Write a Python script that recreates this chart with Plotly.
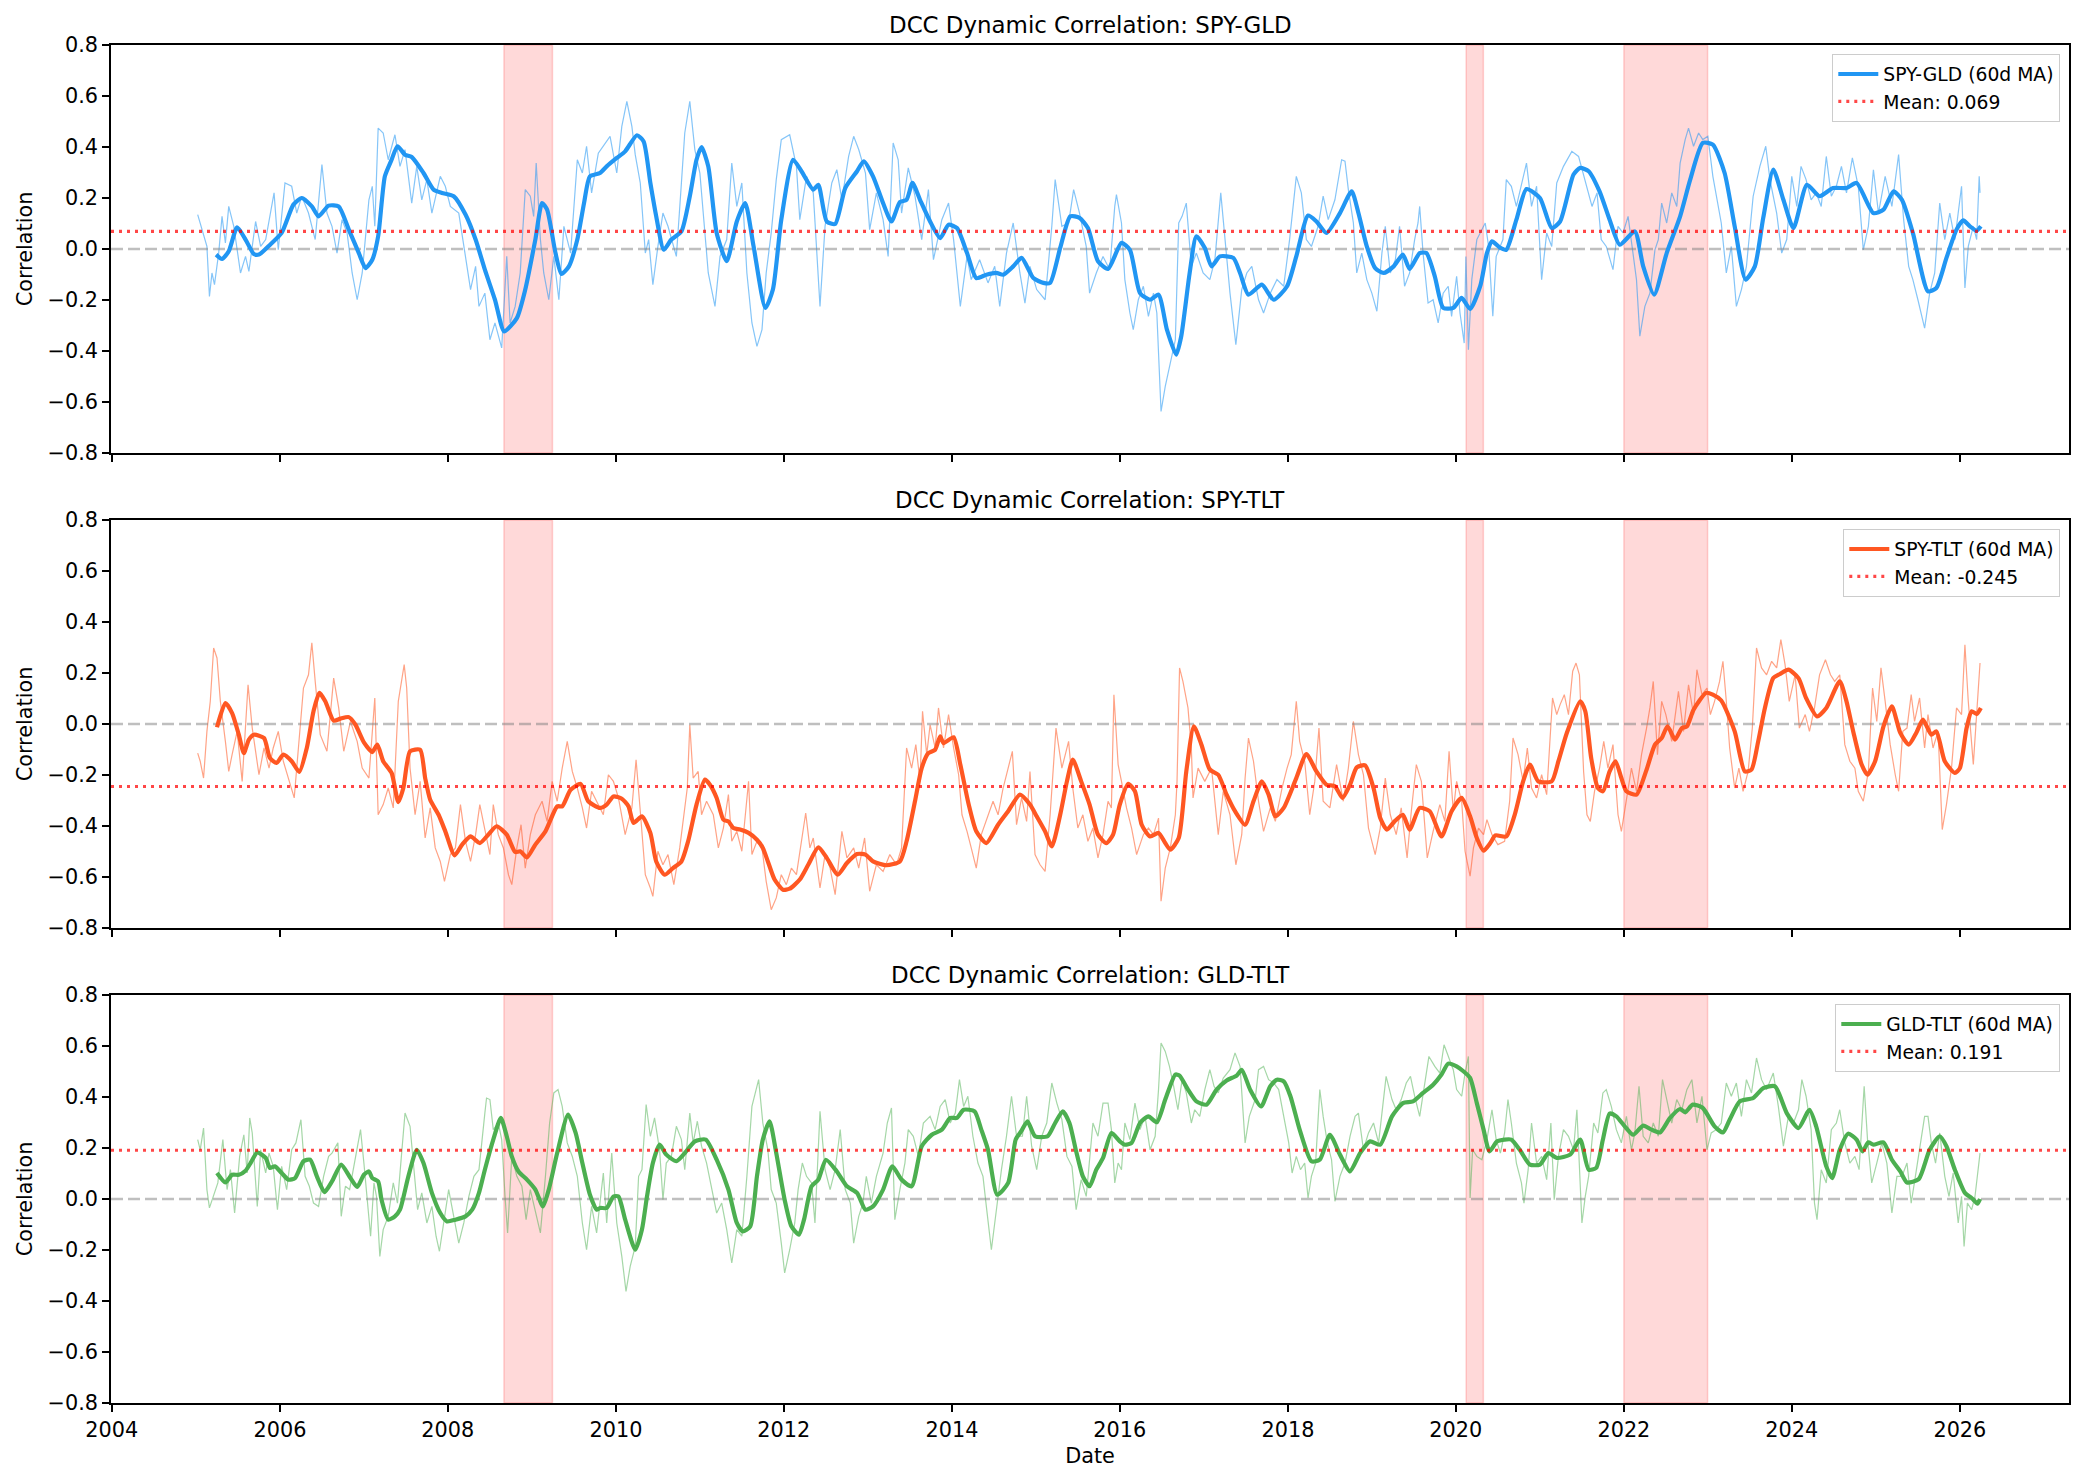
import numpy as np
import pandas as pd
import plotly.graph_objects as go

# ---------------- data (decimal year, correlation) ----------------
SPY_GLD_MA = [(2005.24,-0.022),(2005.31,-0.039),(2005.39,-0.009),(2005.49,0.085),(2005.59,0.037),(2005.69,-0.020),(2005.75,-0.022),(2005.87,0.013),(2006.02,0.063),(2006.16,0.174),(2006.26,0.200),(2006.38,0.167),(2006.46,0.128),(2006.58,0.170),(2006.70,0.167),(2006.82,0.076),(2006.94,-0.016),(2007.02,-0.075),(2007.10,-0.042),(2007.17,0.050),(2007.25,0.285),(2007.33,0.350),(2007.40,0.403),(2007.49,0.370),(2007.57,0.361),(2007.71,0.298),(2007.83,0.233),(2007.93,0.220),(2008.07,0.207),(2008.21,0.135),(2008.33,0.037),(2008.44,-0.081),(2008.56,-0.199),(2008.67,-0.323),(2008.82,-0.271),(2008.92,-0.159),(2009.04,0.037),(2009.12,0.180),(2009.18,0.154),(2009.28,-0.016),(2009.35,-0.098),(2009.44,-0.068),(2009.54,0.037),(2009.62,0.180),(2009.69,0.285),
(2009.81,0.298),(2009.89,0.324),(2010.01,0.357),(2010.11,0.383),(2010.25,0.446),(2010.33,0.422),(2010.41,0.259),(2010.48,0.128),(2010.57,-0.003),(2010.66,0.037),(2010.78,0.069),(2010.88,0.207),(2010.96,0.350),(2011.02,0.400),(2011.10,0.324),(2011.20,0.063),(2011.32,-0.048),(2011.44,0.108),(2011.54,0.180),(2011.64,0.010),(2011.78,-0.231),(2011.87,-0.159),(2011.97,0.115),(2012.11,0.350),(2012.21,0.305),(2012.35,0.233),(2012.41,0.252),(2012.51,0.108),(2012.61,0.098),(2012.73,0.239),(2012.87,0.305),(2012.95,0.344),(2013.06,0.285),(2013.18,0.180),(2013.28,0.108),(2013.38,0.184),(2013.46,0.193),(2013.53,0.259),(2013.62,0.193),(2013.74,0.108),(2013.86,0.043),(2013.96,0.095),(2014.06,0.082),(2014.18,-0.016),(2014.29,-0.114),(2014.41,-0.101),(2014.53,-0.094),(2014.61,-0.101),(2014.73,-0.068),(2014.83,-0.035),(2014.97,-0.114),(2015.09,-0.133),(2015.17,-0.133),(2015.29,0.004),(2015.41,0.128),(2015.52,0.122),(2015.62,0.082),
(2015.74,-0.048),(2015.86,-0.078),(2016.02,0.024),(2016.12,-0.003),(2016.24,-0.173),(2016.36,-0.199),(2016.46,-0.179),(2016.56,-0.316),(2016.67,-0.414),(2016.73,-0.342),(2016.83,-0.094),(2016.91,0.050),(2017.01,0.004),(2017.09,-0.068),(2017.19,-0.029),(2017.35,-0.035),(2017.43,-0.094),(2017.53,-0.179),(2017.69,-0.140),(2017.83,-0.199),(2017.99,-0.146),(2018.10,-0.029),(2018.24,0.131),(2018.34,0.108),(2018.46,0.063),(2018.62,0.141),(2018.76,0.226),(2018.84,0.141),(2018.94,0.010),(2019.04,-0.075),(2019.14,-0.094),(2019.26,-0.068),(2019.37,-0.022),(2019.45,-0.078),(2019.57,-0.016),(2019.65,-0.016),(2019.75,-0.107),(2019.85,-0.231),(2019.97,-0.231),(2020.07,-0.192),(2020.17,-0.235),(2020.29,-0.146),(2020.37,-0.016),(2020.43,0.030),(2020.53,0.004),(2020.60,-0.003),(2020.72,0.115),(2020.84,0.235),(2021.00,0.200),(2021.14,0.082),(2021.24,0.108),(2021.40,0.292),
(2021.48,0.318),(2021.58,0.305),(2021.71,0.226),(2021.83,0.115),(2021.95,0.017),(2022.13,0.069),(2022.23,-0.068),(2022.36,-0.179),(2022.51,-0.016),(2022.67,0.128),(2022.79,0.272),(2022.94,0.416),(2023.06,0.409),(2023.20,0.298),(2023.32,0.089),(2023.45,-0.120),(2023.56,-0.068),(2023.66,0.122),(2023.78,0.311),(2023.90,0.193),(2024.02,0.082),(2024.18,0.252),(2024.33,0.207),(2024.49,0.239),(2024.65,0.239),(2024.77,0.259),(2024.97,0.141),(2025.09,0.154),(2025.21,0.226),(2025.31,0.193),(2025.44,0.063),(2025.62,-0.166),(2025.72,-0.153),(2025.84,-0.035),(2025.96,0.076),(2026.04,0.112),(2026.12,0.089),(2026.20,0.072),(2026.25,0.089)]

SPY_GLD_RAW = [(2005.02,0.135),(2005.07,0.076),(2005.13,0.010),(2005.16,-0.186),(2005.19,-0.094),(2005.22,-0.140),(2005.27,-0.016),(2005.31,0.128),(2005.35,0.024),(2005.39,0.167),(2005.45,0.089),(2005.53,-0.094),(2005.59,-0.029),(2005.63,-0.088),(2005.71,0.108),(2005.77,0.010),(2005.83,0.037),(2005.93,0.220),(2005.98,-0.003),(2006.06,0.259),(2006.14,0.246),(2006.20,0.141),(2006.26,0.207),(2006.34,0.141),(2006.42,0.037),(2006.50,0.331),(2006.56,0.141),(2006.62,0.089),(2006.68,-0.016),(2006.74,0.115),(2006.80,0.063),(2006.86,-0.094),(2006.92,-0.199),(2006.98,-0.094),(2007.06,0.193),(2007.10,0.246),(2007.13,0.089),(2007.17,0.474),(2007.23,0.455),(2007.29,0.350),(2007.37,0.448),(2007.43,0.324),(2007.49,0.390),(2007.57,0.180),(2007.63,0.324),(2007.69,0.193),(2007.75,0.272),(2007.81,0.141),(2007.91,0.285),(2007.97,0.246),(2008.03,0.167),(2008.13,0.141),(2008.19,0.010),(2008.27,-0.159),(2008.33,-0.068),(2008.37,-0.225),(2008.44,-0.173),(2008.50,-0.356),(2008.56,-0.290),(2008.64,-0.388),(2008.70,-0.029),(2008.74,-0.290),(2008.80,-0.225),(2008.86,-0.094),(2008.92,0.233),(2008.98,0.207),(2009.02,0.128),(2009.05,0.337),(2009.10,0.037),(2009.14,-0.094),(2009.20,-0.199),(2009.26,-0.029),(2009.32,-0.199),(2009.38,0.089),(2009.46,-0.016),(2009.54,0.350),(2009.60,0.298),(2009.65,0.403),(2009.71,0.220),(2009.79,0.376),
(2009.93,0.442),(2010.01,0.298),(2010.07,0.481),(2010.13,0.579),(2010.19,0.481),(2010.23,0.370),(2010.29,0.259),(2010.35,-0.016),(2010.39,0.037),(2010.44,-0.140),(2010.50,0.010),(2010.56,0.141),(2010.62,0.089),(2010.72,-0.029),(2010.78,0.259),(2010.82,0.455),(2010.88,0.579),(2010.94,0.390),(2011.00,0.298),(2011.10,-0.094),(2011.18,-0.225),(2011.24,-0.029),(2011.32,0.037),(2011.38,0.337),(2011.44,0.167),(2011.50,0.259),(2011.56,-0.094),(2011.62,-0.290),(2011.68,-0.382),(2011.74,-0.316),(2011.79,-0.094),(2011.85,0.063),(2011.91,0.272),(2011.97,0.429),(2012.07,0.448),(2012.15,0.324),(2012.19,0.115),(2012.27,0.285),(2012.35,0.220),(2012.43,-0.225),(2012.49,0.089),(2012.57,0.259),(2012.63,0.311),(2012.69,0.193),(2012.77,0.363),(2012.83,0.442),(2012.89,0.390),(2012.97,0.298),(2013.02,0.076),(2013.10,0.220),(2013.18,0.115),(2013.24,-0.029),(2013.30,0.416),(2013.36,0.350),(2013.40,0.141),(2013.48,0.318),(2013.56,0.207),(2013.64,0.037),(2013.72,0.233),(2013.78,-0.042),(2013.88,0.115),(2013.96,0.180),(2014.02,0.037),(2014.10,-0.225),(2014.18,-0.029),(2014.23,-0.120),(2014.33,-0.042),(2014.43,-0.133),(2014.51,-0.068),(2014.57,-0.225),(2014.65,-0.016),(2014.73,0.102),(2014.81,-0.094),(2014.87,-0.212),(2014.93,-0.068),(2015.01,-0.159),(2015.11,-0.199),(2015.19,0.089),(2015.23,0.272),(2015.31,0.089),(2015.39,0.102),(2015.45,0.233),(2015.52,0.141),(2015.60,0.010),
(2015.64,-0.173),(2015.72,-0.094),(2015.80,-0.029),(2015.88,-0.081),(2015.94,0.167),(2015.96,0.213),(2016.02,0.102),(2016.06,-0.120),(2016.12,-0.251),(2016.16,-0.316),(2016.22,-0.199),(2016.28,-0.146),(2016.34,-0.264),(2016.40,-0.173),(2016.44,-0.251),(2016.49,-0.637),(2016.54,-0.539),(2016.60,-0.447),(2016.66,-0.356),(2016.70,0.102),(2016.74,0.128),(2016.79,0.180),(2016.85,-0.068),(2016.91,-0.016),(2016.99,-0.094),(2017.07,-0.120),(2017.13,-0.042),(2017.20,0.220),(2017.25,0.037),(2017.31,-0.173),(2017.38,-0.375),(2017.45,-0.159),(2017.51,-0.094),(2017.57,-0.068),(2017.65,-0.199),(2017.71,-0.251),(2017.79,-0.173),(2017.87,-0.120),(2017.95,-0.146),(2018.02,0.037),(2018.10,0.285),(2018.16,0.220),(2018.22,0.037),(2018.28,0.010),(2018.36,0.089),(2018.42,0.207),(2018.48,0.115),(2018.56,0.193),(2018.64,0.350),(2018.68,0.344),(2018.72,0.233),(2018.78,0.102),(2018.82,-0.094),(2018.88,-0.016),(2018.94,-0.120),(2019.00,-0.173),(2019.06,-0.244),(2019.12,-0.016),(2019.16,0.089),(2019.22,-0.094),(2019.28,-0.042),(2019.33,0.089),(2019.39,-0.146),(2019.45,-0.094),(2019.51,0.037),(2019.55,0.102),(2019.57,0.167),(2019.61,-0.016),(2019.67,-0.212),(2019.73,-0.199),(2019.79,-0.290),(2019.85,-0.173),(2019.91,-0.146),(2019.95,-0.264),(2020.01,-0.107),(2020.05,-0.251),(2020.10,-0.369),(2020.12,-0.029),(2020.15,-0.395),(2020.19,-0.120),(2020.25,0.037),(2020.31,0.076),(2020.35,0.102),(2020.39,0.010),(2020.44,-0.264),(2020.48,-0.029),(2020.56,0.037),(2020.60,0.272),(2020.66,0.246),(2020.72,0.167),(2020.78,0.246),(2020.84,0.337),(2020.90,0.167),(2020.96,0.246),(2021.02,-0.120),(2021.08,0.063),(2021.14,0.010),(2021.20,0.259),(2021.28,0.324),(2021.38,0.383),(2021.46,0.363),
(2021.56,0.246),(2021.62,0.167),(2021.68,0.220),(2021.73,0.037),(2021.79,0.010),(2021.87,-0.081),(2021.93,0.089),(2021.99,0.063),(2022.05,0.128),(2022.11,-0.016),(2022.15,-0.120),(2022.19,-0.342),(2022.25,-0.225),(2022.31,-0.173),(2022.37,-0.003),(2022.41,0.037),(2022.45,0.180),(2022.51,0.102),(2022.57,0.220),(2022.63,0.167),(2022.67,0.337),(2022.73,0.429),(2022.77,0.474),(2022.83,0.403),(2022.89,0.455),(2022.94,0.429),(2023.00,0.442),(2023.06,0.285),(2023.10,0.207),(2023.16,0.102),(2023.22,-0.094),(2023.28,0.010),(2023.34,-0.225),(2023.40,-0.159),(2023.46,-0.068),(2023.54,0.207),(2023.62,0.324),(2023.69,0.403),(2023.74,0.272),(2023.82,0.141),(2023.88,-0.016),(2023.94,0.037),(2024.00,0.285),(2024.06,0.167),(2024.11,0.324),(2024.17,0.272),(2024.23,0.193),(2024.29,0.220),(2024.35,0.167),(2024.41,0.363),(2024.47,0.207),(2024.53,0.246),(2024.59,0.324),(2024.65,0.220),(2024.72,0.357),(2024.79,0.246),(2024.85,-0.003),(2024.91,0.089),(2024.97,0.311),(2025.03,0.141),(2025.11,0.285),(2025.19,0.167),(2025.27,0.370),(2025.33,0.115),(2025.39,-0.068),(2025.44,-0.120),(2025.50,-0.199),(2025.58,-0.310),(2025.64,-0.173),(2025.70,-0.094),(2025.76,0.180),(2025.82,0.037),(2025.88,0.141),(2025.94,0.037),(2026.02,0.246),(2026.06,-0.153),(2026.10,0.010),(2026.16,0.089),(2026.20,0.037),(2026.23,0.285),(2026.24,0.220)]

SPY_TLT_MA = [(2005.25,-0.013),(2005.35,0.082),(2005.43,0.043),(2005.51,-0.042),(2005.57,-0.114),(2005.63,-0.061),(2005.69,-0.042),(2005.81,-0.055),(2005.88,-0.133),(2005.96,-0.153),(2006.04,-0.120),(2006.14,-0.146),(2006.23,-0.188),(2006.32,-0.094),(2006.40,0.050),(2006.47,0.122),(2006.54,0.089),(2006.64,0.013),(2006.72,0.021),(2006.82,0.027),(2006.90,-0.003),(2007.00,-0.072),(2007.10,-0.110),(2007.16,-0.081),(2007.23,-0.146),(2007.33,-0.192),(2007.41,-0.306),(2007.47,-0.251),(2007.55,-0.107),(2007.67,-0.101),(2007.73,-0.212),(2007.79,-0.297),(2007.89,-0.356),(2007.97,-0.421),(2008.08,-0.515),(2008.17,-0.473),(2008.27,-0.441),(2008.38,-0.467),(2008.48,-0.434),(2008.58,-0.401),(2008.70,-0.434),(2008.80,-0.502),(2008.86,-0.499),(2008.94,-0.523),(2009.04,-0.473),(2009.16,-0.421),(2009.30,-0.323),(2009.36,-0.323),(2009.46,-0.258),(2009.58,-0.235),(2009.67,-0.303),
(2009.81,-0.329),(2009.89,-0.316),(2009.97,-0.284),(2010.07,-0.293),(2010.15,-0.323),(2010.21,-0.388),(2010.31,-0.362),(2010.41,-0.427),(2010.48,-0.539),(2010.58,-0.591),(2010.68,-0.565),(2010.78,-0.539),(2010.86,-0.460),(2010.96,-0.316),(2011.06,-0.218),(2011.12,-0.238),(2011.20,-0.290),(2011.28,-0.375),(2011.34,-0.382),(2011.40,-0.408),(2011.48,-0.414),(2011.58,-0.427),(2011.68,-0.454),(2011.75,-0.486),(2011.81,-0.539),(2011.89,-0.610),(2011.99,-0.650),(2012.07,-0.646),(2012.19,-0.610),(2012.29,-0.552),(2012.41,-0.484),(2012.51,-0.525),(2012.64,-0.591),(2012.75,-0.545),(2012.87,-0.510),(2012.97,-0.512),(2013.06,-0.539),(2013.22,-0.554),(2013.38,-0.539),(2013.46,-0.460),(2013.56,-0.303),(2013.64,-0.173),(2013.72,-0.114),(2013.80,-0.101),(2013.86,-0.048),(2013.90,-0.075),(2014.02,-0.052),(2014.10,-0.159),(2014.20,-0.316),(2014.29,-0.421),(2014.41,-0.467),(2014.55,-0.395),(2014.67,-0.342),(2014.81,-0.277),(2014.93,-0.316),(2015.01,-0.362),(2015.11,-0.421),(2015.19,-0.480),(2015.29,-0.356),(2015.37,-0.225),(2015.44,-0.140),(2015.54,-0.225),
(2015.64,-0.316),(2015.74,-0.434),(2015.84,-0.467),(2015.92,-0.434),(2016.00,-0.316),(2016.10,-0.235),(2016.18,-0.264),(2016.26,-0.395),(2016.36,-0.441),(2016.46,-0.427),(2016.54,-0.467),(2016.60,-0.493),(2016.70,-0.447),(2016.79,-0.186),(2016.88,-0.009),(2016.97,-0.081),(2017.07,-0.179),(2017.17,-0.199),(2017.27,-0.277),(2017.37,-0.342),(2017.49,-0.395),(2017.59,-0.303),(2017.69,-0.225),(2017.77,-0.277),(2017.85,-0.362),(2017.95,-0.329),(2018.10,-0.212),(2018.22,-0.118),(2018.34,-0.186),(2018.46,-0.238),(2018.56,-0.244),(2018.65,-0.290),(2018.74,-0.238),(2018.82,-0.170),(2018.92,-0.162),(2019.02,-0.251),(2019.10,-0.369),(2019.18,-0.414),(2019.27,-0.382),(2019.37,-0.356),(2019.45,-0.414),(2019.57,-0.329),(2019.69,-0.342),(2019.83,-0.441),(2019.95,-0.342),(2020.07,-0.290),(2020.17,-0.362),(2020.25,-0.447),(2020.33,-0.497),(2020.41,-0.467),(2020.47,-0.437),(2020.60,-0.441),(2020.70,-0.356),(2020.80,-0.225),(2020.88,-0.159),(2020.98,-0.225),(2021.14,-0.225),(2021.22,-0.146),(2021.32,-0.035),
(2021.48,0.089),(2021.54,0.050),(2021.61,-0.133),(2021.69,-0.251),(2021.75,-0.264),(2021.83,-0.186),(2021.90,-0.146),(2021.97,-0.212),(2022.03,-0.264),(2022.15,-0.277),(2022.27,-0.179),(2022.37,-0.081),(2022.45,-0.055),(2022.52,-0.009),(2022.61,-0.061),(2022.69,-0.016),(2022.75,-0.010),(2022.83,0.056),(2022.98,0.122),(2023.06,0.115),(2023.16,0.092),(2023.32,-0.029),(2023.44,-0.186),(2023.52,-0.179),(2023.60,-0.068),(2023.68,0.063),(2023.78,0.180),(2023.86,0.196),(2023.96,0.213),(2024.08,0.180),(2024.17,0.102),(2024.30,0.030),(2024.41,0.063),(2024.57,0.167),(2024.65,0.089),(2024.73,-0.029),(2024.83,-0.159),(2024.90,-0.199),(2024.99,-0.146),(2025.09,-0.009),(2025.19,0.069),(2025.29,-0.035),(2025.39,-0.081),(2025.48,-0.035),(2025.56,0.017),(2025.66,-0.042),(2025.72,-0.029),(2025.82,-0.146),(2025.94,-0.192),(2026.00,-0.173),(2026.08,-0.016),(2026.14,0.050),(2026.20,0.039),(2026.25,0.063)]

SPY_TLT_RAW = [(2005.02,-0.114),(2005.05,-0.146),(2005.09,-0.212),(2005.13,-0.029),(2005.17,0.089),(2005.21,0.298),(2005.25,0.259),(2005.29,0.089),(2005.35,-0.068),(2005.39,-0.186),(2005.43,-0.120),(2005.49,-0.029),(2005.55,-0.225),(2005.62,0.154),(2005.67,-0.016),(2005.75,-0.199),(2005.81,-0.094),(2005.87,-0.173),(2005.92,-0.094),(2005.98,-0.029),(2006.04,-0.146),(2006.10,-0.212),(2006.17,-0.290),(2006.22,-0.094),(2006.28,0.141),(2006.34,0.193),(2006.38,0.318),(2006.42,0.167),(2006.48,-0.042),(2006.56,-0.107),(2006.64,0.180),(2006.70,0.063),(2006.76,-0.107),(2006.84,0.010),(2006.92,-0.068),(2006.98,-0.173),(2007.06,-0.212),(2007.13,0.102),(2007.17,-0.356),(2007.23,-0.316),(2007.29,-0.251),(2007.35,-0.329),(2007.41,0.089),(2007.48,0.233),(2007.51,0.141),(2007.55,-0.173),(2007.61,-0.356),(2007.67,-0.225),(2007.73,-0.447),(2007.79,-0.329),(2007.85,-0.486),(2007.91,-0.539),(2007.96,-0.617),(2008.03,-0.512),(2008.09,-0.486),(2008.15,-0.316),(2008.21,-0.460),(2008.27,-0.539),(2008.33,-0.434),(2008.38,-0.316),(2008.44,-0.421),(2008.50,-0.512),(2008.54,-0.316),(2008.60,-0.434),(2008.66,-0.486),(2008.72,-0.591),(2008.76,-0.630),(2008.82,-0.486),(2008.87,-0.395),(2008.92,-0.565),(2008.98,-0.434),(2009.04,-0.356),(2009.12,-0.303),(2009.18,-0.382),(2009.24,-0.225),(2009.30,-0.303),(2009.36,-0.173),(2009.42,-0.068),(2009.48,-0.186),(2009.54,-0.251),(2009.60,-0.329),(2009.65,-0.408),(2009.71,-0.264),
(2009.85,-0.356),(2009.91,-0.199),(2009.97,-0.225),(2010.03,-0.290),(2010.11,-0.434),(2010.19,-0.329),(2010.24,-0.140),(2010.29,-0.342),(2010.35,-0.591),(2010.41,-0.643),(2010.44,-0.676),(2010.50,-0.499),(2010.56,-0.552),(2010.62,-0.512),(2010.69,-0.630),(2010.76,-0.486),(2010.82,-0.329),(2010.85,-0.251),(2010.88,-0.003),(2010.92,-0.212),(2010.98,-0.186),(2011.02,-0.356),(2011.08,-0.303),(2011.16,-0.356),(2011.22,-0.486),(2011.28,-0.408),(2011.34,-0.277),(2011.38,-0.460),(2011.44,-0.421),(2011.50,-0.499),(2011.58,-0.225),(2011.62,-0.512),(2011.68,-0.460),(2011.74,-0.486),(2011.79,-0.617),(2011.85,-0.728),(2011.91,-0.682),(2011.97,-0.591),(2012.03,-0.630),(2012.09,-0.565),(2012.15,-0.591),(2012.21,-0.460),(2012.26,-0.349),(2012.31,-0.486),(2012.35,-0.447),(2012.43,-0.643),(2012.49,-0.512),(2012.55,-0.565),(2012.61,-0.669),(2012.69,-0.421),(2012.75,-0.525),(2012.83,-0.486),(2012.89,-0.565),(2012.96,-0.447),(2013.02,-0.656),(2013.10,-0.552),(2013.18,-0.578),(2013.26,-0.512),(2013.34,-0.552),(2013.40,-0.486),(2013.46,-0.094),(2013.52,-0.173),(2013.57,-0.081),(2013.62,-0.225),(2013.65,0.050),(2013.70,-0.120),(2013.74,-0.003),(2013.80,-0.094),(2013.84,0.063),(2013.90,-0.094),(2013.96,0.037),(2014.02,-0.094),(2014.08,-0.199),(2014.12,-0.356),(2014.18,-0.421),(2014.23,-0.486),(2014.29,-0.565),(2014.35,-0.434),(2014.43,-0.356),(2014.49,-0.303),(2014.55,-0.356),(2014.61,-0.251),(2014.67,-0.173),(2014.72,-0.107),(2014.77,-0.395),(2014.83,-0.290),(2014.89,-0.382),(2014.93,-0.186),(2014.99,-0.512),(2015.05,-0.552),(2015.11,-0.578),(2015.17,-0.356),(2015.24,-0.016),(2015.31,-0.173),(2015.39,-0.068),(2015.44,-0.251),(2015.50,-0.408),(2015.56,-0.356),(2015.62,-0.460),
(2015.68,-0.408),(2015.74,-0.525),(2015.80,-0.434),(2015.86,-0.303),(2015.90,-0.329),(2015.93,0.115),(2015.98,-0.159),(2016.02,-0.225),(2016.08,-0.329),(2016.14,-0.408),(2016.20,-0.512),(2016.28,-0.434),(2016.34,-0.408),(2016.40,-0.434),(2016.46,-0.369),(2016.49,-0.695),(2016.54,-0.565),(2016.60,-0.486),(2016.66,-0.356),(2016.68,-0.225),(2016.71,0.220),(2016.75,0.167),(2016.81,0.063),(2016.85,-0.094),(2016.87,-0.290),(2016.93,-0.173),(2017.01,-0.225),(2017.09,-0.173),(2017.17,-0.434),(2017.23,-0.264),(2017.31,-0.356),(2017.38,-0.552),(2017.45,-0.434),(2017.49,-0.212),(2017.53,-0.055),(2017.59,-0.146),(2017.65,-0.303),(2017.71,-0.421),(2017.79,-0.329),(2017.85,-0.382),(2017.93,-0.251),(2017.99,-0.173),(2018.04,-0.120),(2018.10,0.089),(2018.14,-0.068),(2018.20,-0.146),(2018.26,-0.356),(2018.32,-0.225),(2018.37,-0.016),(2018.42,-0.303),(2018.50,-0.329),(2018.58,-0.159),(2018.66,-0.303),(2018.72,-0.173),(2018.78,0.010),(2018.84,-0.120),(2018.90,-0.199),(2018.96,-0.408),(2019.04,-0.512),(2019.10,-0.408),(2019.16,-0.212),(2019.22,-0.356),(2019.29,-0.434),(2019.35,-0.329),(2019.42,-0.525),(2019.47,-0.342),(2019.53,-0.159),(2019.59,-0.225),(2019.66,-0.525),(2019.73,-0.421),(2019.81,-0.316),(2019.87,-0.382),(2019.92,-0.107),(2019.97,-0.342),(2020.01,-0.225),(2020.07,-0.303),(2020.11,-0.499),(2020.17,-0.597),(2020.21,-0.486),(2020.27,-0.408),(2020.33,-0.434),(2020.37,-0.375),(2020.43,-0.434),(2020.50,-0.473),(2020.58,-0.460),(2020.64,-0.303),(2020.68,-0.055),(2020.74,-0.120),(2020.80,-0.225),(2020.85,-0.094),(2020.90,-0.251),(2020.96,-0.290),(2021.02,-0.199),(2021.08,-0.277),(2021.15,0.102),(2021.20,0.037),(2021.24,0.076),(2021.29,0.115),(2021.34,0.037),(2021.39,0.207),(2021.43,0.239),(2021.47,0.193),
(2021.52,-0.186),(2021.56,-0.356),(2021.60,-0.382),(2021.65,-0.264),(2021.71,-0.173),(2021.76,-0.068),(2021.81,-0.173),(2021.87,-0.081),(2021.93,-0.356),(2021.97,-0.421),(2022.03,-0.290),(2022.09,-0.173),(2022.15,-0.264),(2022.21,-0.120),(2022.27,-0.016),(2022.31,0.063),(2022.35,0.167),(2022.40,-0.120),(2022.45,0.089),(2022.50,0.037),(2022.57,-0.068),(2022.65,0.128),(2022.71,-0.029),(2022.77,0.154),(2022.83,0.037),(2022.87,0.213),(2022.93,0.115),(2022.99,0.141),(2023.03,0.037),(2023.08,0.089),(2023.14,0.167),(2023.18,0.246),(2023.22,0.089),(2023.26,-0.094),(2023.32,-0.251),(2023.37,-0.173),(2023.42,-0.264),(2023.48,-0.186),(2023.53,-0.016),(2023.58,0.298),(2023.64,0.220),(2023.70,0.193),(2023.76,0.246),(2023.82,0.220),(2023.87,0.331),(2023.92,0.233),(2023.97,0.089),(2024.04,0.193),(2024.09,-0.016),(2024.16,0.037),(2024.21,-0.029),(2024.27,0.063),(2024.33,0.193),(2024.40,0.252),(2024.46,0.193),(2024.51,0.167),(2024.57,0.193),(2024.63,-0.081),(2024.69,-0.146),(2024.75,-0.173),(2024.79,-0.264),(2024.85,-0.303),(2024.91,-0.186),(2024.96,0.141),(2025.01,0.010),(2025.06,0.220),(2025.11,0.089),(2025.17,-0.081),(2025.23,-0.199),(2025.27,-0.264),(2025.32,-0.029),(2025.37,-0.016),(2025.42,0.115),(2025.46,0.010),(2025.52,0.102),(2025.58,-0.094),(2025.62,0.037),(2025.68,-0.094),(2025.74,-0.029),(2025.79,-0.414),(2025.84,-0.316),(2025.90,-0.173),(2025.96,0.063),(2026.02,0.037),(2026.06,0.311),(2026.10,0.089),(2026.16,-0.159),(2026.20,0.037),(2026.24,0.239)]

GLD_TLT_MA = [(2005.25,0.102),(2005.35,0.065),(2005.43,0.095),(2005.51,0.095),(2005.59,0.111),(2005.65,0.141),(2005.73,0.183),(2005.83,0.161),(2005.88,0.122),(2005.94,0.128),(2006.02,0.102),(2006.10,0.076),(2006.18,0.082),(2006.28,0.148),(2006.36,0.154),(2006.44,0.089),(2006.53,0.027),(2006.62,0.069),(2006.73,0.135),(2006.84,0.082),(2006.92,0.047),(2007.00,0.095),(2007.06,0.108),(2007.10,0.082),(2007.17,0.069),(2007.21,-0.003),(2007.29,-0.081),(2007.37,-0.068),(2007.43,-0.042),(2007.53,0.089),(2007.63,0.193),(2007.71,0.141),(2007.81,0.024),(2007.91,-0.055),(2007.99,-0.088),(2008.09,-0.081),(2008.21,-0.068),(2008.29,-0.042),(2008.37,0.024),(2008.44,0.115),(2008.54,0.233),(2008.63,0.318),(2008.70,0.246),(2008.76,0.167),(2008.84,0.108),(2008.94,0.076),(2009.04,0.037),(2009.13,-0.029),(2009.20,0.037),(2009.30,0.180),(2009.43,0.331),(2009.52,0.259),(2009.60,0.141),(2009.69,0.017),(2009.77,-0.042),
(2009.81,-0.035),(2009.89,-0.035),(2009.97,0.010),(2010.03,0.010),(2010.11,-0.081),(2010.23,-0.199),(2010.31,-0.120),(2010.37,0.010),(2010.44,0.141),(2010.52,0.213),(2010.60,0.174),(2010.72,0.148),(2010.82,0.180),(2010.94,0.226),(2011.07,0.233),(2011.20,0.154),(2011.34,0.037),(2011.44,-0.094),(2011.51,-0.127),(2011.60,-0.107),(2011.68,0.089),(2011.75,0.233),(2011.83,0.305),(2011.91,0.180),(2012.01,-0.003),(2012.09,-0.107),(2012.18,-0.140),(2012.24,-0.081),(2012.33,0.050),(2012.41,0.076),(2012.50,0.154),(2012.63,0.108),(2012.75,0.050),(2012.87,0.024),(2012.97,-0.042),(2013.06,-0.029),(2013.18,0.037),(2013.29,0.128),(2013.40,0.076),(2013.52,0.050),(2013.64,0.207),(2013.76,0.252),(2013.88,0.272),(2013.98,0.318),(2014.06,0.318),(2014.14,0.350),(2014.27,0.344),(2014.35,0.272),(2014.43,0.193),(2014.54,0.017),(2014.67,0.063),(2014.76,0.233),(2014.83,0.268),(2014.90,0.305),(2014.99,0.246),(2015.14,0.246),(2015.23,0.298),(2015.32,0.344),(2015.40,0.298),(2015.48,0.187),(2015.56,0.089),
(2015.64,0.050),(2015.72,0.115),(2015.80,0.161),(2015.90,0.259),(2016.00,0.226),(2016.06,0.213),(2016.14,0.220),(2016.24,0.298),(2016.34,0.324),(2016.44,0.301),(2016.54,0.390),(2016.66,0.488),(2016.71,0.484),(2016.81,0.429),(2016.91,0.383),(2017.03,0.370),(2017.15,0.429),(2017.27,0.465),(2017.39,0.484),(2017.45,0.507),(2017.55,0.429),(2017.68,0.363),(2017.79,0.442),(2017.87,0.468),(2017.95,0.461),(2018.03,0.403),(2018.14,0.272),(2018.28,0.148),(2018.38,0.154),(2018.50,0.252),(2018.62,0.174),(2018.74,0.108),(2018.86,0.180),(2018.98,0.226),(2019.10,0.213),(2019.24,0.324),(2019.37,0.376),(2019.49,0.383),(2019.61,0.416),(2019.73,0.448),(2019.83,0.488),(2019.91,0.531),(2020.01,0.520),(2020.09,0.501),(2020.17,0.475),(2020.25,0.376),(2020.33,0.272),(2020.40,0.187),(2020.49,0.226),(2020.58,0.233),(2020.66,0.233),(2020.76,0.193),(2020.88,0.135),(2021.00,0.135),(2021.10,0.180),(2021.20,0.161),(2021.36,0.174),
(2021.48,0.233),(2021.58,0.115),(2021.67,0.122),(2021.75,0.233),(2021.83,0.335),(2021.91,0.324),(2022.01,0.285),(2022.11,0.252),(2022.23,0.288),(2022.33,0.272),(2022.43,0.261),(2022.55,0.318),(2022.67,0.353),(2022.73,0.340),(2022.82,0.370),(2022.94,0.357),(2023.08,0.285),(2023.18,0.261),(2023.26,0.311),(2023.38,0.383),(2023.54,0.396),(2023.66,0.435),(2023.80,0.442),(2023.94,0.337),(2024.08,0.278),(2024.21,0.350),(2024.29,0.285),(2024.41,0.128),(2024.48,0.082),(2024.57,0.193),(2024.67,0.256),(2024.77,0.233),(2024.84,0.187),(2024.91,0.222),(2024.97,0.213),(2025.09,0.222),(2025.19,0.154),(2025.29,0.108),(2025.37,0.065),(2025.51,0.078),(2025.64,0.193),(2025.76,0.246),(2025.84,0.207),(2025.94,0.115),(2026.06,0.024),(2026.14,0.004),(2026.21,-0.018),(2026.24,0.000)]

GLD_TLT_RAW = [(2005.02,0.233),(2005.05,0.193),(2005.09,0.278),(2005.13,0.037),(2005.16,-0.035),(2005.21,0.010),(2005.26,0.063),(2005.32,0.233),(2005.37,0.037),(2005.41,0.115),(2005.46,-0.055),(2005.52,0.167),(2005.57,0.252),(2005.61,0.102),(2005.64,0.318),(2005.67,0.259),(2005.73,-0.029),(2005.77,0.193),(2005.83,0.102),(2005.87,0.180),(2005.92,0.128),(2005.97,-0.042),(2006.02,0.128),(2006.08,0.037),(2006.14,0.193),(2006.19,0.220),(2006.25,0.311),(2006.30,0.089),(2006.35,0.050),(2006.40,-0.016),(2006.46,-0.029),(2006.52,0.089),(2006.58,0.167),(2006.62,0.180),(2006.69,0.220),(2006.73,-0.068),(2006.78,0.050),(2006.83,0.037),(2006.88,0.128),(2006.96,0.272),(2007.00,0.141),(2007.08,-0.146),(2007.12,0.063),(2007.15,0.010),(2007.19,-0.225),(2007.23,-0.120),(2007.29,-0.068),(2007.35,0.063),(2007.40,-0.016),(2007.45,0.167),(2007.49,0.337),(2007.55,0.285),(2007.59,0.141),(2007.64,-0.042),(2007.69,0.024),(2007.75,-0.094),(2007.81,-0.029),(2007.86,-0.146),(2007.90,-0.205),(2007.95,-0.094),(2008.01,0.037),(2008.07,-0.068),(2008.13,-0.173),(2008.19,-0.094),(2008.25,0.010),(2008.31,0.089),(2008.37,0.115),(2008.44,0.337),(2008.46,0.396),(2008.50,0.390),(2008.54,0.272),(2008.60,0.298),(2008.64,0.233),(2008.68,0.010),(2008.71,-0.133),(2008.76,0.167),(2008.82,0.089),(2008.88,0.050),(2008.93,-0.081),(2008.98,0.037),(2009.04,-0.042),(2009.10,-0.133),(2009.16,0.089),(2009.21,0.298),(2009.26,0.416),(2009.31,0.429),(2009.36,0.363),(2009.42,0.220),(2009.48,0.167),(2009.54,0.089),(2009.60,-0.094),(2009.65,-0.199),(2009.71,-0.029),(2009.77,-0.133),
(2009.85,0.102),(2009.89,-0.094),(2009.95,0.180),(2010.01,-0.094),(2010.07,-0.225),(2010.12,-0.362),(2010.17,-0.264),(2010.23,-0.186),(2010.27,0.089),(2010.31,0.115),(2010.36,0.370),(2010.41,0.246),(2010.46,0.318),(2010.52,0.193),(2010.56,-0.003),(2010.60,0.141),(2010.66,0.167),(2010.72,0.285),(2010.78,0.233),(2010.82,0.115),(2010.88,0.337),(2010.92,0.220),(2010.97,0.305),(2011.02,0.207),(2011.08,0.141),(2011.14,0.037),(2011.20,-0.055),(2011.26,-0.016),(2011.32,-0.120),(2011.38,-0.251),(2011.44,-0.120),(2011.50,-0.146),(2011.56,0.089),(2011.62,0.363),(2011.66,0.416),(2011.70,0.468),(2011.75,0.298),(2011.81,0.193),(2011.85,0.037),(2011.91,-0.016),(2011.97,-0.173),(2012.01,-0.290),(2012.07,-0.199),(2012.13,-0.094),(2012.17,0.037),(2012.22,0.141),(2012.27,0.089),(2012.33,0.063),(2012.37,-0.094),(2012.43,0.344),(2012.49,0.115),(2012.55,0.037),(2012.61,0.115),(2012.67,0.272),(2012.73,0.037),(2012.79,-0.016),(2012.83,-0.173),(2012.89,-0.068),(2012.94,-0.016),(2012.98,0.089),(2013.04,-0.016),(2013.10,0.089),(2013.18,0.180),(2013.23,0.298),(2013.28,0.357),(2013.32,-0.081),(2013.38,0.037),(2013.44,0.141),(2013.48,0.272),(2013.54,0.246),(2013.60,0.167),(2013.66,0.298),(2013.74,0.324),(2013.80,0.272),(2013.86,0.363),(2013.92,0.390),(2013.98,0.298),(2014.04,0.337),(2014.09,0.468),(2014.14,0.363),(2014.19,0.403),(2014.25,0.246),(2014.31,0.141),(2014.37,0.089),(2014.41,-0.029),(2014.47,-0.199),(2014.53,-0.042),(2014.59,0.115),(2014.65,0.246),(2014.71,0.403),(2014.77,0.246),(2014.84,0.246),(2014.89,0.403),(2014.95,0.207),(2015.01,0.115),(2015.07,0.246),(2015.13,0.298),(2015.19,0.455),(2015.25,0.376),(2015.31,0.311),(2015.37,0.167),(2015.43,0.128),(2015.48,-0.042),(2015.54,0.076),(2015.60,0.010),
(2015.68,0.298),(2015.74,0.246),(2015.80,0.376),(2015.86,0.376),(2015.90,0.272),(2015.94,0.063),(2015.98,0.141),(2016.02,0.115),(2016.06,0.298),(2016.12,0.233),(2016.18,0.376),(2016.24,0.272),(2016.30,0.324),(2016.36,0.193),(2016.42,0.246),(2016.46,0.429),(2016.49,0.612),(2016.54,0.579),(2016.59,0.520),(2016.64,0.442),(2016.69,0.350),(2016.74,0.468),(2016.79,0.416),(2016.85,0.298),(2016.89,0.350),(2016.95,0.324),(2017.01,0.429),(2017.07,0.507),(2017.12,0.442),(2017.17,0.416),(2017.23,0.474),(2017.31,0.507),(2017.37,0.573),(2017.43,0.520),(2017.49,0.220),(2017.54,0.324),(2017.61,0.390),(2017.65,0.507),(2017.71,0.520),(2017.77,0.468),(2017.83,0.455),(2017.89,0.429),(2017.95,0.324),(2018.01,0.220),(2018.05,0.102),(2018.10,0.167),(2018.15,0.115),(2018.20,0.141),(2018.24,0.004),(2018.28,0.089),(2018.33,0.141),(2018.38,0.429),(2018.42,0.324),(2018.47,0.220),(2018.52,0.154),(2018.56,-0.009),(2018.62,0.089),(2018.68,0.141),(2018.74,0.246),(2018.80,0.324),(2018.84,0.337),(2018.90,0.193),(2018.96,0.259),(2019.02,0.298),(2019.08,0.220),(2019.13,0.363),(2019.17,0.481),(2019.24,0.390),(2019.29,0.350),(2019.35,0.390),(2019.41,0.455),(2019.46,0.481),(2019.51,0.403),(2019.57,0.324),(2019.63,0.455),(2019.68,0.559),(2019.75,0.520),(2019.81,0.494),(2019.86,0.605),(2019.91,0.559),(2019.97,0.507),(2020.01,0.429),(2020.07,0.403),(2020.11,0.494),(2020.15,0.559),(2020.17,0.004),(2020.20,0.193),(2020.25,0.167),(2020.31,0.154),(2020.37,0.233),(2020.43,0.350),(2020.48,0.233),(2020.53,0.180),(2020.58,0.259),(2020.62,0.390),(2020.66,0.298),(2020.72,0.141),(2020.78,0.063),(2020.81,-0.016),(2020.86,0.115),(2020.90,0.298),(2020.96,0.141),(2021.02,0.167),(2021.08,0.076),(2021.13,0.298),(2021.17,-0.003),(2021.22,0.167),(2021.28,0.272),(2021.34,0.246),(2021.40,0.193),(2021.44,0.350),
(2021.50,-0.094),(2021.54,0.010),(2021.58,0.089),(2021.64,0.298),(2021.69,0.259),(2021.75,0.416),(2021.79,0.429),(2021.85,0.363),(2021.91,0.272),(2021.97,0.220),(2022.03,0.324),(2022.09,0.193),(2022.13,0.259),(2022.18,0.442),(2022.23,0.246),(2022.29,0.220),(2022.35,0.298),(2022.41,0.246),(2022.46,0.468),(2022.51,0.390),(2022.57,0.298),(2022.63,0.390),(2022.69,0.350),(2022.75,0.429),(2022.81,0.468),(2022.87,0.298),(2022.93,0.403),(2022.99,0.193),(2023.04,0.259),(2023.10,0.272),(2023.16,0.298),(2023.22,0.455),(2023.28,0.403),(2023.34,0.455),(2023.40,0.324),(2023.46,0.468),(2023.52,0.416),(2023.58,0.553),(2023.64,0.468),(2023.70,0.429),(2023.78,0.494),(2023.84,0.363),(2023.90,0.207),(2023.96,0.324),(2024.02,0.298),(2024.08,0.350),(2024.12,0.468),(2024.17,0.403),(2024.23,0.272),(2024.27,-0.016),(2024.30,-0.081),(2024.35,0.115),(2024.41,0.063),(2024.47,0.272),(2024.53,0.298),(2024.57,0.350),(2024.63,0.220),(2024.69,0.141),(2024.75,0.167),(2024.80,0.115),(2024.86,0.442),(2024.90,0.233),(2024.95,0.063),(2025.01,0.141),(2025.07,0.220),(2025.13,0.141),(2025.19,-0.055),(2025.25,0.089),(2025.31,0.089),(2025.37,0.141),(2025.42,-0.016),(2025.47,0.089),(2025.52,0.193),(2025.58,0.324),(2025.62,0.324),(2025.66,0.220),(2025.71,0.141),(2025.76,0.259),(2025.82,0.089),(2025.87,0.010),(2025.92,0.102),(2025.98,-0.094),(2026.02,0.010),(2026.05,-0.186),(2026.09,-0.016),(2026.14,-0.042),(2026.18,0.010),(2026.21,0.089),(2026.24,0.180)]

PAIRS = ["SPY-GLD", "SPY-TLT", "GLD-TLT"]
MEANS = [0.069, -0.245, 0.191]
COLORS = ["#2196F3", "#FF5722", "#4CAF50"]
RAW_RGBA = ["rgba(33,150,243,0.55)", "rgba(255,87,34,0.55)", "rgba(76,175,80,0.5)"]
MA_DATA = [SPY_GLD_MA, SPY_TLT_MA, GLD_TLT_MA]
RAW_DATA = [SPY_GLD_RAW, SPY_TLT_RAW, GLD_TLT_RAW]
CRISES = [("2008-09-01", "2009-03-31"), ("2020-02-15", "2020-04-30"), ("2022-01-01", "2022-12-31")]
YEAR_TICKS = list(range(2004, 2027, 2))
Y_TICKS = [-0.8, -0.6, -0.4, -0.2, 0.0, 0.2, 0.4, 0.6, 0.8]
X_RANGE_YEARS = (2003.99, 2027.30)


def to_dt(y):
    yr = int(np.floor(y))
    s = pd.Timestamp(year=yr, month=1, day=1)
    e = pd.Timestamp(year=yr + 1, month=1, day=1)
    return s + (e - s) * (y - yr)


def unzip(pairs):
    pairs = sorted(pairs, key=lambda p: p[0])
    return [to_dt(p[0]) for p in pairs], [p[1] for p in pairs]


FONT = "DejaVu Sans"
W, H = 2084, 1482
ML, MR, MT, MB = 111, 15, 45, 79
PANELS_PX = [(45, 453), (520, 928), (995, 1403)]
plot_h = H - MT - MB


def ydom(top, bot):
    return [(H - MB - bot) / plot_h, (H - MB - top) / plot_h]


xr = [to_dt(X_RANGE_YEARS[0]), to_dt(X_RANGE_YEARS[1])]

fig = go.Figure()
layout = dict(
    width=W, height=H,
    margin=dict(l=ML, r=MR, t=MT, b=MB, pad=0),
    paper_bgcolor="white", plot_bgcolor="white",
    font=dict(family=FONT, size=20.8, color="black"),
    showlegend=True,
    annotations=[], shapes=[],
)

for i in range(3):
    s = "" if i == 0 else str(i + 1)
    xa, ya = "x" + s, "y" + s
    leg = "legend" + s
    rx, ry = unzip(RAW_DATA[i])
    mx, my = unzip(MA_DATA[i])

    for (a, b) in CRISES:
        layout["shapes"].append(dict(
            type="rect", xref=xa, yref=ya + " domain", x0=a, x1=b, y0=0, y1=1,
            fillcolor="rgba(255,0,0,0.15)", line=dict(color="rgba(255,0,0,0.17)", width=1.5),
            layer="below"))

    fig.add_trace(go.Scatter(x=rx, y=ry, mode="lines", xaxis=xa, yaxis=ya,
                             line=dict(color=RAW_RGBA[i], width=1.2),
                             showlegend=False, hoverinfo="skip"))
    fig.add_trace(go.Scatter(x=xr, y=[0, 0], mode="lines", xaxis=xa, yaxis=ya,
                             line=dict(color="rgba(128,128,128,0.5)", width=2.6, dash="12px,5px"),
                             showlegend=False, hoverinfo="skip"))
    fig.add_trace(go.Scatter(x=mx, y=my, mode="lines", xaxis=xa, yaxis=ya,
                             line=dict(color=COLORS[i], width=4.2, shape="spline", smoothing=0.6),
                             name=f"{PAIRS[i]} (60d MA)", legend=leg))
    fig.add_trace(go.Scatter(x=xr, y=[MEANS[i], MEANS[i]], mode="lines", xaxis=xa, yaxis=ya,
                             line=dict(color="rgba(255,0,0,0.72)", width=3.1, dash="3px,5px"),
                             name=f"Mean: {MEANS[i]:.3f}", legend=leg))

    top, bot = PANELS_PX[i]
    dom = ydom(top, bot)
    axis_common = dict(showline=True, linecolor="black", linewidth=1.6, mirror=True,
                       ticks="outside", ticklen=7, tickwidth=1.6, tickcolor="black",
                       showgrid=False, zeroline=False,
                       tickfont=dict(family=FONT, size=20.8, color="black"))
    xaxis = dict(
        axis_common, domain=[0, 1], anchor=ya, type="date", range=xr,
        tickmode="array", tickvals=[f"{y}-01-01" for y in YEAR_TICKS],
        ticktext=[str(y) for y in YEAR_TICKS], showticklabels=(i == 2))
    if i == 2:
        xaxis["title"] = dict(text="Date", standoff=8, font=dict(size=20.8))
    layout["xaxis" + s] = xaxis
    layout["yaxis" + s] = dict(
        axis_common, domain=dom, anchor=xa, range=[-0.8, 0.8],
        tickmode="array", tickvals=Y_TICKS,
        ticktext=[f"{v:.1f}".replace("-", "\u2212") for v in Y_TICKS],
        title=dict(text="Correlation", standoff=9, font=dict(size=20.8)))

    layout[leg] = dict(
        x=(2060 - ML) / (W - ML - MR), y=(H - MB - (top + 9)) / plot_h,
        xanchor="right", yanchor="top", bgcolor="rgba(255,255,255,0.8)",
        bordercolor="#cccccc", borderwidth=1.3,
        font=dict(family=FONT, size=18.75, color="black"),
        itemwidth=40, tracegroupgap=0)

    layout["annotations"].append(dict(
        text=f"DCC Dynamic Correlation: {PAIRS[i]}", xref="paper", yref="paper",
        x=0.5, y=dom[1], xanchor="center", yanchor="bottom", yshift=5, showarrow=False,
        font=dict(family=FONT, size=22.9, color="black")))

fig.update_layout(**layout)
fig.write_html("out.html")
